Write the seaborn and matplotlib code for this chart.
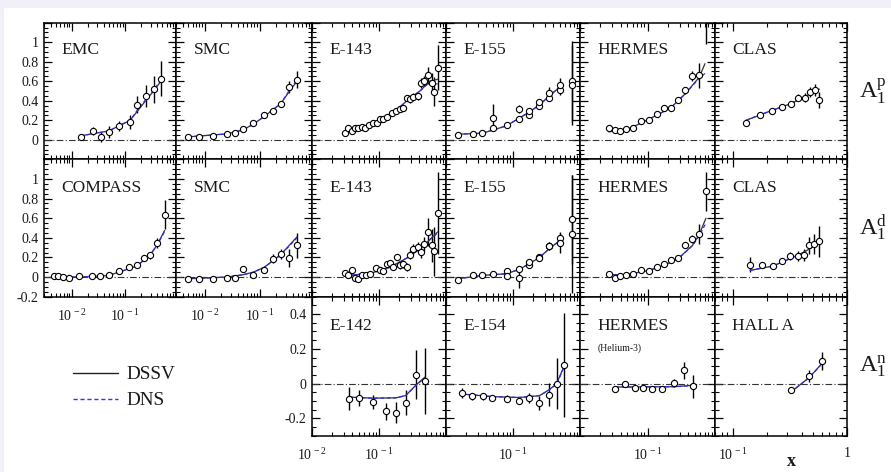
import numpy as np
import pandas as pd
import matplotlib
matplotlib.use("Agg")
import matplotlib.pyplot as plt
import seaborn as sns
from matplotlib.ticker import MultipleLocator, LogLocator, FuncFormatter, NullFormatter
from matplotlib.lines import Line2D
from matplotlib.patches import Rectangle

# ---------------------------------------------------------------- proton data
emc_x = [0.015, 0.025, 0.035, 0.049, 0.076, 0.124, 0.168, 0.242, 0.342, 0.47]
emc_a1 = [0.033, 0.093, 0.027, 0.083, 0.14, 0.183, 0.36, 0.45, 0.517, 0.627]
emc_err = [0.03, 0.04, 0.05, 0.06, 0.05, 0.07, 0.09, 0.11, 0.14, 0.18]
emc_cx = [0.0144, 0.049, 0.124, 0.168, 0.242, 0.342, 0.47]
emc_dssv = [0.04, 0.09, 0.20, 0.29, 0.40, 0.50, 0.60]
emc_dns = [0.04, 0.09, 0.20, 0.30, 0.41, 0.51, 0.61]

smc_x = [0.005, 0.008, 0.014, 0.025, 0.035, 0.049, 0.077, 0.122, 0.173, 0.242, 0.342, 0.48]
smcp_a1 = [0.033, 0.027, 0.04, 0.06, 0.073, 0.107, 0.167, 0.25, 0.293, 0.367, 0.54, 0.617]
smcp_err = [0.015, 0.012, 0.012, 0.012, 0.015, 0.015, 0.02, 0.025, 0.03, 0.035, 0.06, 0.09]
smcp_cx = [0.005, 0.025, 0.049, 0.077, 0.122, 0.242, 0.342, 0.48]
smcp_dssv = [0.03, 0.06, 0.10, 0.16, 0.24, 0.37, 0.49, 0.60]
smcp_dns = [0.03, 0.06, 0.10, 0.16, 0.24, 0.37, 0.50, 0.61]

e143p_x = [0.031, 0.035, 0.039, 0.044, 0.049, 0.055, 0.062, 0.072, 0.081, 0.093,
           0.104, 0.116, 0.133, 0.155, 0.179, 0.206, 0.231, 0.259, 0.290, 0.325,
           0.378, 0.419, 0.47, 0.533, 0.612, 0.67, 0.752]
e143p_a1 = [0.067, 0.117, 0.09, 0.117, 0.123, 0.127, 0.117, 0.15, 0.173, 0.173,
            0.217, 0.217, 0.233, 0.273, 0.293, 0.313, 0.327, 0.427, 0.413, 0.44,
            0.45, 0.583, 0.6, 0.66, 0.583, 0.493, 0.74]
e143p_err = [0.03, 0.025, 0.02, 0.02, 0.02, 0.02, 0.02, 0.02, 0.02, 0.02,
             0.02, 0.02, 0.02, 0.025, 0.025, 0.025, 0.03, 0.03, 0.035, 0.035,
             0.04, 0.05, 0.05, 0.09, 0.10, 0.15, 0.23]
e143p_cx = [0.031, 0.08, 0.15, 0.26, 0.42, 0.57, 0.75]
e143p_dssv = [0.07, 0.167, 0.25, 0.40, 0.507, 0.60, 0.62]
e143p_dns = [0.07, 0.167, 0.25, 0.40, 0.507, 0.59, 0.57]

e155p_x = [0.015, 0.025, 0.035, 0.05, 0.05, 0.08, 0.124, 0.124, 0.175, 0.175,
           0.248, 0.248, 0.348, 0.348, 0.496, 0.496, 0.75, 0.75]
e155p_a1 = [0.05, 0.057, 0.073, 0.117, 0.227, 0.15, 0.217, 0.317, 0.25, 0.30,
            0.35, 0.383, 0.433, 0.483, 0.507, 0.56, 0.607, 0.56]
e155p_err = [0.01, 0.01, 0.015, 0.02, 0.14, 0.02, 0.02, 0.04, 0.03, 0.03,
             0.03, 0.04, 0.04, 0.06, 0.05, 0.07, 0.41, 0.41]
e155p_cx = [0.015, 0.035, 0.08, 0.124, 0.175, 0.25, 0.35, 0.5]
e155p_dssv = [0.057, 0.067, 0.143, 0.223, 0.283, 0.36, 0.45, 0.54]
e155p_dns = [0.057, 0.067, 0.143, 0.223, 0.283, 0.36, 0.45, 0.545]

hermes_x = [0.0265, 0.0325, 0.0395, 0.0486, 0.0611, 0.0813, 0.105, 0.136, 0.175,
            0.225, 0.284, 0.357, 0.464, 0.583, 0.734]
hermesp_a1 = [0.117, 0.1, 0.09, 0.107, 0.117, 0.193, 0.2, 0.267, 0.327, 0.327,
              0.407, 0.507, 0.65, 0.66, 1.30]
hermesp_err = [0.02, 0.015, 0.015, 0.015, 0.015, 0.02, 0.02, 0.02, 0.025, 0.025,
               0.03, 0.035, 0.05, 0.125, 0.32]
hermesp_cx = [0.0265, 0.0486, 0.081, 0.136, 0.225, 0.357, 0.583, 0.71]
hermesp_dssv = [0.083, 0.10, 0.173, 0.25, 0.333, 0.467, 0.64, 0.78]
hermesp_dns = [0.083, 0.10, 0.173, 0.25, 0.333, 0.467, 0.63, 0.68]

clasp_x = [0.131, 0.173, 0.219, 0.272, 0.321, 0.375, 0.429, 0.475, 0.525, 0.573]
clasp_a1 = [0.173, 0.25, 0.30, 0.34, 0.367, 0.433, 0.433, 0.493, 0.507, 0.407]
clasp_err = [0.02, 0.02, 0.025, 0.03, 0.03, 0.04, 0.05, 0.05, 0.06, 0.08]
clasp_cx = [0.131, 0.219, 0.321, 0.429, 0.525, 0.573]
clasp_dssv = [0.20, 0.30, 0.37, 0.44, 0.50, 0.52]
clasp_dns = [0.20, 0.30, 0.37, 0.44, 0.50, 0.51]

# -------------------------------------------------------------- deuteron data
compass_x = [0.0046, 0.0056, 0.0067, 0.0089, 0.0137, 0.0238, 0.0342, 0.0491,
             0.0757, 0.12, 0.166, 0.221, 0.296, 0.394, 0.552]
compass_a1 = [0.006, 0.006, 0.0, -0.007, 0.006, 0.006, 0.013, 0.023, 0.061,
              0.102, 0.126, 0.194, 0.221, 0.347, 0.636]
compass_err = [0.01, 0.01, 0.01, 0.01, 0.01, 0.01, 0.01, 0.01, 0.012, 0.015,
               0.02, 0.025, 0.035, 0.05, 0.145]
compass_cx = [0.0046, 0.0137, 0.049, 0.076, 0.166, 0.296, 0.394, 0.552]
compass_dssv = [0.0, 0.0, 0.017, 0.05, 0.112, 0.228, 0.323, 0.476]
compass_dns = [0.0, 0.0, 0.017, 0.05, 0.112, 0.228, 0.320, 0.466]

smcd_a1 = [-0.017, -0.017, -0.024, -0.007, -0.01, 0.078, 0.023, 0.075, 0.187,
           0.238, 0.194, 0.323]
smcd_err = [0.015, 0.012, 0.012, 0.012, 0.012, 0.015, 0.02, 0.03, 0.045, 0.05,
            0.09, 0.13]
smcd_cx = [0.005, 0.025, 0.049, 0.077, 0.122, 0.242, 0.48]
smcd_dssv = [-0.017, 0.0, 0.023, 0.05, 0.10, 0.228, 0.41]
smcd_dns = [-0.017, 0.0, 0.023, 0.05, 0.10, 0.225, 0.40]

e143d_x = [0.031, 0.035, 0.039, 0.044, 0.049, 0.055, 0.064, 0.073, 0.090, 0.104,
           0.116, 0.133, 0.146, 0.164, 0.184, 0.206, 0.231, 0.259, 0.290, 0.325,
           0.378, 0.419, 0.47, 0.533, 0.612, 0.67, 0.752]
e143d_a1 = [0.044, 0.017, 0.068, -0.01, -0.017, 0.017, 0.024, 0.027, 0.092, 0.068,
            0.058, 0.136, 0.146, 0.102, 0.204, 0.119, 0.136, 0.102, 0.228, 0.289,
            0.306, 0.255, 0.34, 0.459, 0.323, 0.262, 0.653]
e143d_err = [0.03, 0.03, 0.03, 0.02, 0.02, 0.02, 0.02, 0.02, 0.025, 0.025,
             0.025, 0.03, 0.03, 0.03, 0.035, 0.035, 0.04, 0.04, 0.045, 0.05,
             0.05, 0.06, 0.07, 0.14, 0.17, 0.25, 0.42]
e143d_cx = [0.031, 0.08, 0.146, 0.26, 0.378, 0.533, 0.75]
e143d_dssv = [0.01, 0.044, 0.10, 0.194, 0.27, 0.36, 0.46]
e143d_dns = [0.01, 0.044, 0.10, 0.194, 0.27, 0.36, 0.45]

e155d_x = [0.015, 0.025, 0.035, 0.05, 0.08, 0.08, 0.124, 0.124, 0.175, 0.175,
           0.248, 0.248, 0.348, 0.348, 0.496, 0.496, 0.75, 0.75]
e155d_a1 = [-0.028, 0.017, 0.017, 0.034, 0.058, 0.007, 0.085, -0.01, 0.126, 0.153,
            0.204, 0.194, 0.316, 0.316, 0.398, 0.35, 0.588, 0.435]
e155d_err = [0.01, 0.01, 0.01, 0.015, 0.015, 0.015, 0.02, 0.1, 0.03, 0.03,
             0.035, 0.035, 0.04, 0.04, 0.06, 0.1, 0.45, 0.6]
e155d_cx = [0.015, 0.035, 0.08, 0.124, 0.175, 0.253, 0.348, 0.5]
e155d_dssv = [-0.017, 0.017, 0.034, 0.078, 0.136, 0.204, 0.289, 0.374]
e155d_dns = [-0.017, 0.017, 0.034, 0.078, 0.136, 0.204, 0.289, 0.370]

hermesd_a1 = [0.034, -0.01, 0.007, 0.024, 0.03, 0.068, 0.058, 0.102, 0.136, 0.17,
              0.194, 0.33, 0.39, 0.442, 0.874]
hermesd_err = [0.01, 0.01, 0.01, 0.01, 0.01, 0.012, 0.012, 0.015, 0.015, 0.02,
               0.02, 0.03, 0.04, 0.1, 0.2]
hermesd_cx = [0.0265, 0.0486, 0.105, 0.175, 0.284, 0.464, 0.583, 0.734]
hermesd_dssv = [0.024, 0.024, 0.068, 0.119, 0.187, 0.323, 0.432, 0.60]
hermesd_dns = [0.024, 0.024, 0.068, 0.119, 0.187, 0.320, 0.420, 0.55]

clasd_x = [0.142, 0.179, 0.224, 0.272, 0.317, 0.370, 0.421, 0.468, 0.517, 0.569]
clasd_a1 = [0.126, 0.119, 0.112, 0.163, 0.214, 0.214, 0.221, 0.323, 0.34, 0.364]
clasd_err = [0.077, 0.03, 0.02, 0.03, 0.04, 0.05, 0.06, 0.09, 0.1, 0.16]
clasd_cx = [0.142, 0.224, 0.317, 0.421, 0.517, 0.569]
clasd_dssv = [0.068, 0.112, 0.187, 0.255, 0.316, 0.35]
clasd_dns = [0.068, 0.112, 0.187, 0.255, 0.316, 0.345]

# --------------------------------------------------------------- neutron data
e142_x = [0.036, 0.051, 0.082, 0.126, 0.179, 0.25, 0.353, 0.486]
e142_a1 = [-0.087, -0.081, -0.106, -0.16, -0.168, -0.11, 0.052, 0.013]
e142_err = [0.067, 0.046, 0.04, 0.05, 0.06, 0.072, 0.14, 0.19]
e142_cx = [0.036, 0.082, 0.179, 0.25, 0.353, 0.486]
e142_dssv = [-0.078, -0.084, -0.082, -0.069, -0.01, 0.038]
e142_dns = [-0.078, -0.084, -0.082, -0.069, -0.012, 0.034]

e154_x = [0.0171, 0.0242, 0.0353, 0.0491, 0.0805, 0.124, 0.175, 0.247, 0.348, 0.449, 0.577]
e154_a1 = [-0.054, -0.073, -0.073, -0.083, -0.087, -0.1, -0.083, -0.11, -0.064, 0.0, 0.106]
e154_err = [0.03, 0.02, 0.02, 0.02, 0.02, 0.02, 0.03, 0.04, 0.067, 0.145, 0.3]
e154_cx = [0.0171, 0.0491, 0.124, 0.247, 0.348, 0.449, 0.577]
e154_dssv = [-0.06, -0.075, -0.08, -0.07, -0.035, 0.0, 0.10]
e154_dns = [-0.06, -0.075, -0.08, -0.07, -0.037, -0.003, 0.095]

hermesn_x = [0.0333, 0.047, 0.0646, 0.0863, 0.1175, 0.166, 0.247, 0.348, 0.47]
hermesn_a1 = [-0.029, -0.004, -0.023, -0.023, -0.029, -0.033, 0.004, 0.077, -0.016]
hermesn_err = [0.01, 0.01, 0.012, 0.012, 0.015, 0.018, 0.025, 0.048, 0.067]
hermesn_cx = [0.0333, 0.247, 0.47]
hermesn_dssv = [-0.02, -0.018, -0.01]
hermesn_dns = [-0.02, -0.018, -0.012]

halla_x = [0.324, 0.468, 0.604]
halla_a1 = [-0.039, 0.044, 0.129]
halla_err = [0.015, 0.034, 0.053]
halla_cx = [0.324, 0.468, 0.604]
halla_dssv = [-0.048, 0.035, 0.116]
halla_dns = [-0.048, 0.035, 0.114]

row_labels = ["p", "d", "n"]

# (row, col, name, x, A1, err, curve x, DSSV, DNS)
panels = [
    (0, 0, "EMC", emc_x, emc_a1, emc_err, emc_cx, emc_dssv, emc_dns),
    (0, 1, "SMC", smc_x, smcp_a1, smcp_err, smcp_cx, smcp_dssv, smcp_dns),
    (0, 2, "E-143", e143p_x, e143p_a1, e143p_err, e143p_cx, e143p_dssv, e143p_dns),
    (0, 3, "E-155", e155p_x, e155p_a1, e155p_err, e155p_cx, e155p_dssv, e155p_dns),
    (0, 4, "HERMES", hermes_x, hermesp_a1, hermesp_err, hermesp_cx, hermesp_dssv, hermesp_dns),
    (0, 5, "CLAS", clasp_x, clasp_a1, clasp_err, clasp_cx, clasp_dssv, clasp_dns),
    (1, 0, "COMPASS", compass_x, compass_a1, compass_err, compass_cx, compass_dssv, compass_dns),
    (1, 1, "SMC", smc_x, smcd_a1, smcd_err, smcd_cx, smcd_dssv, smcd_dns),
    (1, 2, "E-143", e143d_x, e143d_a1, e143d_err, e143d_cx, e143d_dssv, e143d_dns),
    (1, 3, "E-155", e155d_x, e155d_a1, e155d_err, e155d_cx, e155d_dssv, e155d_dns),
    (1, 4, "HERMES", hermes_x, hermesd_a1, hermesd_err, hermesd_cx, hermesd_dssv, hermesd_dns),
    (1, 5, "CLAS", clasd_x, clasd_a1, clasd_err, clasd_cx, clasd_dssv, clasd_dns),
    (2, 2, "E-142", e142_x, e142_a1, e142_err, e142_cx, e142_dssv, e142_dns),
    (2, 3, "E-154", e154_x, e154_a1, e154_err, e154_cx, e154_dssv, e154_dns),
    (2, 4, "HERMES", hermesn_x, hermesn_a1, hermesn_err, hermesn_cx, hermesn_dssv, hermesn_dns),
    (2, 5, "HALL A", halla_x, halla_a1, halla_err, halla_cx, halla_dssv, halla_dns),
]

# ------------------------------------------------------------------ styling
sns.set_theme(style="white")
plt.rcParams["font.family"] = ["Liberation Serif", "DejaVu Serif"]
plt.rcParams["mathtext.fontset"] = "custom"
plt.rcParams["mathtext.rm"] = "Liberation Serif"
plt.rcParams["mathtext.it"] = "Liberation Serif:italic"
plt.rcParams["mathtext.bf"] = "Liberation Serif:bold"
plt.rcParams["axes.edgecolor"] = "black"
plt.rcParams["text.color"] = "#1a1a1a"

W, H = 891, 472
fig = plt.figure(figsize=(W / 100, H / 100), dpi=100)
fig.patch.set_facecolor("#f1eff8")
fig.add_artist(Rectangle((4 / W, 0), 1, 1 - 8 / H, transform=fig.transFigure,
                         facecolor="white", edgecolor="none", zorder=0))

col_edges = [44, 176, 312, 446, 580, 715, 847]
row_edges = [22.7, 159.3, 296.7, 435.7]
col_xlim = [(0.003, 0.9), (0.003, 0.9), (0.01, 1), (0.01, 1), (0.01, 1), (0.07, 1)]
row_ylim = [(-0.2, 1.2), (-0.2, 1.2), (-0.3, 0.5)]
row_yticks = [[0, 0.2, 0.4, 0.6, 0.8, 1.0],
              [-0.2, 0, 0.2, 0.4, 0.6, 0.8, 1.0],
              [-0.2, 0, 0.2, 0.4]]

# which tick labels are written on each axis
xlabels_shown = {(1, 0): [0.01, 0.1], (1, 1): [0.01, 0.1],
                 (2, 2): [0.01, 0.1], (2, 3): [0.1], (2, 4): [0.1], (2, 5): [0.1, 1.0]}
ylabels_shown = {(0, 0): True, (1, 0): True, (2, 2): True}


def xfmt(shown):
    def f(v, pos):
        for s in shown:
            if abs(np.log10(v) - np.log10(s)) < 1e-6:
                if abs(s - 1) < 1e-9:
                    return "1"
                return r"$10^{\,%d}$" % int(round(np.log10(s)))
        return ""
    return FuncFormatter(f)


def yfmt(shown):
    def f(v, pos):
        v = round(v, 3)
        if any(abs(v - s) < 1e-6 for s in shown):
            return "%g" % v if v != 0 else "0"
        return ""
    return FuncFormatter(f)


for (r, c, name, x, a1, err, cx, dssv, dns) in panels:
    x0, x1 = col_edges[c], col_edges[c + 1]
    y0, y1 = row_edges[r], row_edges[r + 1]
    ax = fig.add_axes([x0 / W, 1 - y1 / H, (x1 - x0) / W, (y1 - y0) / H])
    ax.set_facecolor("white")
    ax.set_xscale("log")
    ax.set_xlim(*col_xlim[c])
    ax.set_ylim(*row_ylim[r])

    ax.axhline(0, color="#333333", lw=0.8, dashes=(6, 2, 1, 2), zorder=1)

    pts = pd.DataFrame({"x": x, "A1": a1, "err": err})
    ax.errorbar(pts["x"], pts["A1"], yerr=pts["err"], fmt="none",
                ecolor="black", elinewidth=1.0, capsize=0, zorder=2)
    curve = pd.DataFrame({"x": cx, "DSSV": dssv, "DNS": dns})
    sns.lineplot(data=curve, x="x", y="DSSV", ax=ax, color="#333333", lw=0.9,
                 estimator=None, sort=False, legend=False, zorder=3)
    sns.lineplot(data=curve, x="x", y="DNS", ax=ax, color="#2a2aff", lw=0.9,
                 linestyle=(0, (3, 2)), estimator=None, sort=False,
                 legend=False, zorder=3)
    sns.scatterplot(data=pts, x="x", y="A1", ax=ax, marker="o", s=20,
                    color="white", edgecolor="black", linewidth=0.8,
                    zorder=4, legend=False)

    ax.set_xlabel("")
    ax.set_ylabel("")

    ax.xaxis.set_major_locator(LogLocator(base=10, numticks=20))
    ax.xaxis.set_minor_locator(LogLocator(base=10, subs=np.arange(2, 10), numticks=20))
    ax.xaxis.set_major_formatter(xfmt(xlabels_shown.get((r, c), [])))
    ax.xaxis.set_minor_formatter(NullFormatter())
    ax.yaxis.set_major_locator(MultipleLocator(0.2))
    ax.yaxis.set_minor_locator(MultipleLocator(0.05))
    if ylabels_shown.get((r, c)):
        ax.yaxis.set_major_formatter(yfmt(row_yticks[r]))
    else:
        ax.yaxis.set_major_formatter(FuncFormatter(lambda v, p: ""))

    ax.tick_params(which="both", direction="in", top=True, right=True,
                   bottom=True, left=True, colors="black", labelcolor="#1a1a1a")
    ax.tick_params(which="major", length=6, width=0.9, labelsize=10, pad=4)
    ax.tick_params(which="minor", length=3, width=0.8)
    ax.tick_params(axis="x", which="major", pad=8)
    for sp in ax.spines.values():
        sp.set_linewidth(1.1)
        sp.set_color("black")

    top_px = 27.5 if r == 0 else 29
    ax.text(17.5 / (x1 - x0), 1 - top_px / (y1 - y0), name, transform=ax.transAxes,
            fontsize=12.6, va="center", ha="left")
    if r == 2 and name == "HERMES":
        ax.text(17.5 / (x1 - x0), 1 - 51 / (y1 - y0), "(Helium-3)",
                transform=ax.transAxes, fontsize=7, va="center", ha="left")

# row labels on the right
for r, lab in enumerate(row_labels):
    yc = (row_edges[r] + row_edges[r + 1]) / 2
    fig.text(859 / W, 1 - yc / H, r"$\mathrm{A}_{1}^{\mathrm{%s}}$" % lab,
             fontsize=17.5, va="center", ha="left")

fig.text(791.7 / W, 1 - 461.7 / H, "x", fontsize=13, fontweight="bold",
         ha="center", va="center")

handles = [Line2D([], [], color="#222222", lw=1.0),
           Line2D([], [], color="#3030ff", lw=1.0, linestyle=(0, (3, 2)))]
fig.legend(handles, ["DSSV", "DNS"], loc="upper left",
           bbox_to_anchor=(72.7 / W, 1 - 366 / H), frameon=False, fontsize=13.8,
           handlelength=2.35, handletextpad=0.45, labelspacing=0.45,
           borderpad=0, borderaxespad=0)

fig.savefig("out.png", dpi=100, facecolor=fig.get_facecolor())
